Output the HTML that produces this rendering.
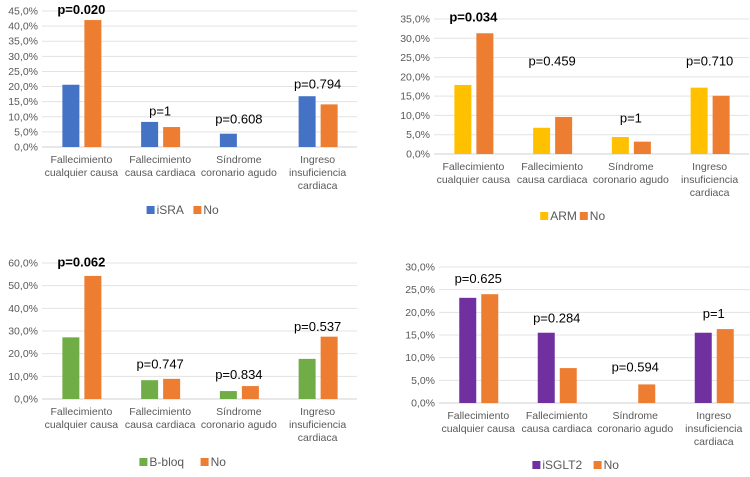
<!DOCTYPE html>
<html><head><meta charset="utf-8">
<style>
html,body{margin:0;padding:0;background:#fff;}
svg{display:block;font-family:"Liberation Sans",sans-serif;}
</style></head>
<body>
<svg id="chart" width="750" height="477" viewBox="0 0 750 477"></svg>
<script>
const categories = [["Fallecimiento","cualquier causa"],["Fallecimiento","causa cardiaca"],["Síndrome","coronario agudo"],["Ingreso","insuficiencia","cardiaca"]];
const israValues = [20.6, 8.3, 4.4, 16.8];
const israNoValues = [42.0, 6.6, 0, 14.1];
const israPLabels = ["p=0.020","p=1","p=0.608","p=0.794"];
const israPLevels = [44, 10.5, 7.8, 19.3];
const israTicks = [0,5,10,15,20,25,30,35,40,45];
const armValues = [17.9, 6.8, 4.4, 17.2];
const armNoValues = [31.3, 9.6, 3.2, 15.1];
const armPLabels = ["p=0.034","p=0.459","p=1","p=0.710"];
const armPLevels = [34.3, 23.0, 8.2, 23.0];
const armTicks = [0,5,10,15,20,25,30,35];
const bbloqValues = [27.2, 8.3, 3.5, 17.7];
const bbloqNoValues = [54.3, 8.9, 5.7, 27.5];
const bbloqPLabels = ["p=0.062","p=0.747","p=0.834","p=0.537"];
const bbloqPLevels = [58.5, 13.5, 8.8, 30.0];
const bbloqTicks = [0,10,20,30,40,50,60];
const sglt2Values = [23.2, 15.5, 0, 15.5];
const sglt2NoValues = [24.0, 7.7, 4.1, 16.3];
const sglt2PLabels = ["p=0.625","p=0.284","p=0.594","p=1"];
const sglt2PLevels = [26.5, 17.8, 7.0, 18.8];
const sglt2TicksArr = [0,5,10,15,20,25,30];

const NS="http://www.w3.org/2000/svg";
const svg=document.getElementById('chart');
function mk(tag,attrs,parent,text){const e=document.createElementNS(NS,tag);for(const k in attrs)e.setAttribute(k,attrs[k]);if(text!==undefined)e.textContent=text;parent.appendChild(e);return e;}

function drawChart(cfg){
  const g=mk('g',{},svg);
  
  
  const maxT=cfg.ticks[cfg.ticks.length-1];
  const y=v=>cfg.y0-(v/maxT)*(cfg.y0-cfg.yTop);
  const step=(cfg.x1-cfg.x0)/categories.length;
  const cx=i=>cfg.x0+step*(i+0.5);
  cfg.ticks.forEach(t=>{
    const l=mk('line',{x1:cfg.x0,x2:cfg.x1,y1:y(t),y2:y(t),stroke:t===0?'#d0d0d0':'#e3e3e3','stroke-width':1},g);
    
    
    const tx=mk('text',{x:cfg.x0-4,y:y(t)+3.5,'text-anchor':'end','font-size':'10.5',fill:'#595959'},g,t.toFixed(1).replace('.',',')+'%');
    
    
  });
  categories.forEach((lines,i)=>{
    const c=cx(i);
    const v1=cfg.a[i], v2=cfg.b[i];
    if(v1>0){const r=mk('rect',{x:c-19,y:y(v1),width:17,height:y(0)-y(v1),fill:cfg.colA},g);
      
      }
    if(v2>0){const r=mk('rect',{x:c+3,y:y(v2),width:17,height:y(0)-y(v2),fill:'#ED7D31'},g);
      
      }
    const p=mk('text',{x:c,y:y(cfg.pLevels[i]),'text-anchor':'middle','font-size':'13',fill:'#000','font-weight':(i===0&&cfg.bold)?'bold':'normal'},g,cfg.pLabels[i]);
    
    
    lines.forEach((ln,k)=>{
      const t=mk('text',{x:c,y:cfg.y0+16+k*13,'text-anchor':'middle','font-size':'10.5',fill:'#595959'},g,ln);
      
      
    });
  });
  const lx=cfg.legX, ly=cfg.legY;
  const w=cfg.seriesA.length*7.2;
  const s1=mk('rect',{x:lx-w/2-24,y:ly-8,width:8,height:8,fill:cfg.colA},g);
  
  
  const t1=mk('text',{x:lx-w/2-14,y:ly,'font-size':'12',fill:'#595959'},g,cfg.seriesA);
  
  
  const s2=mk('rect',{x:lx+w/2-6,y:ly-8,width:8,height:8,fill:'#ED7D31'},g);
  
  
  const t2=mk('text',{x:lx+w/2+4,y:ly,'font-size':'12',fill:'#595959'},g,'No');
  
  
}

drawChart({name:'chart-isra',x0:42,x1:357,y0:147,yTop:11,ticks:israTicks,a:israValues,b:israNoValues,pLabels:israPLabels,pLevels:israPLevels,colA:'#4472C4',seriesA:'iSRA',bold:true,legX:185,legY:214});
drawChart({name:'chart-arm',x0:434,x1:749,y0:154,yTop:19,ticks:armTicks,a:armValues,b:armNoValues,pLabels:armPLabels,pLevels:armPLevels,colA:'#FFC000',seriesA:'ARM',bold:true,legX:575,legY:220});
drawChart({name:'chart-bbloq',x0:42,x1:357,y0:399,yTop:263,ticks:bbloqTicks,a:bbloqValues,b:bbloqNoValues,pLabels:bbloqPLabels,pLevels:bbloqPLevels,colA:'#70AD47',seriesA:'B-bloq',bold:true,legX:185,legY:466});
drawChart({name:'chart-isglt2',x0:439,x1:753,y0:403,yTop:267,ticks:sglt2TicksArr,a:sglt2Values,b:sglt2NoValues,pLabels:sglt2PLabels,pLevels:sglt2PLevels,colA:'#7030A0',seriesA:'iSGLT2',bold:false,legX:578,legY:469});
</script>
</body></html>
